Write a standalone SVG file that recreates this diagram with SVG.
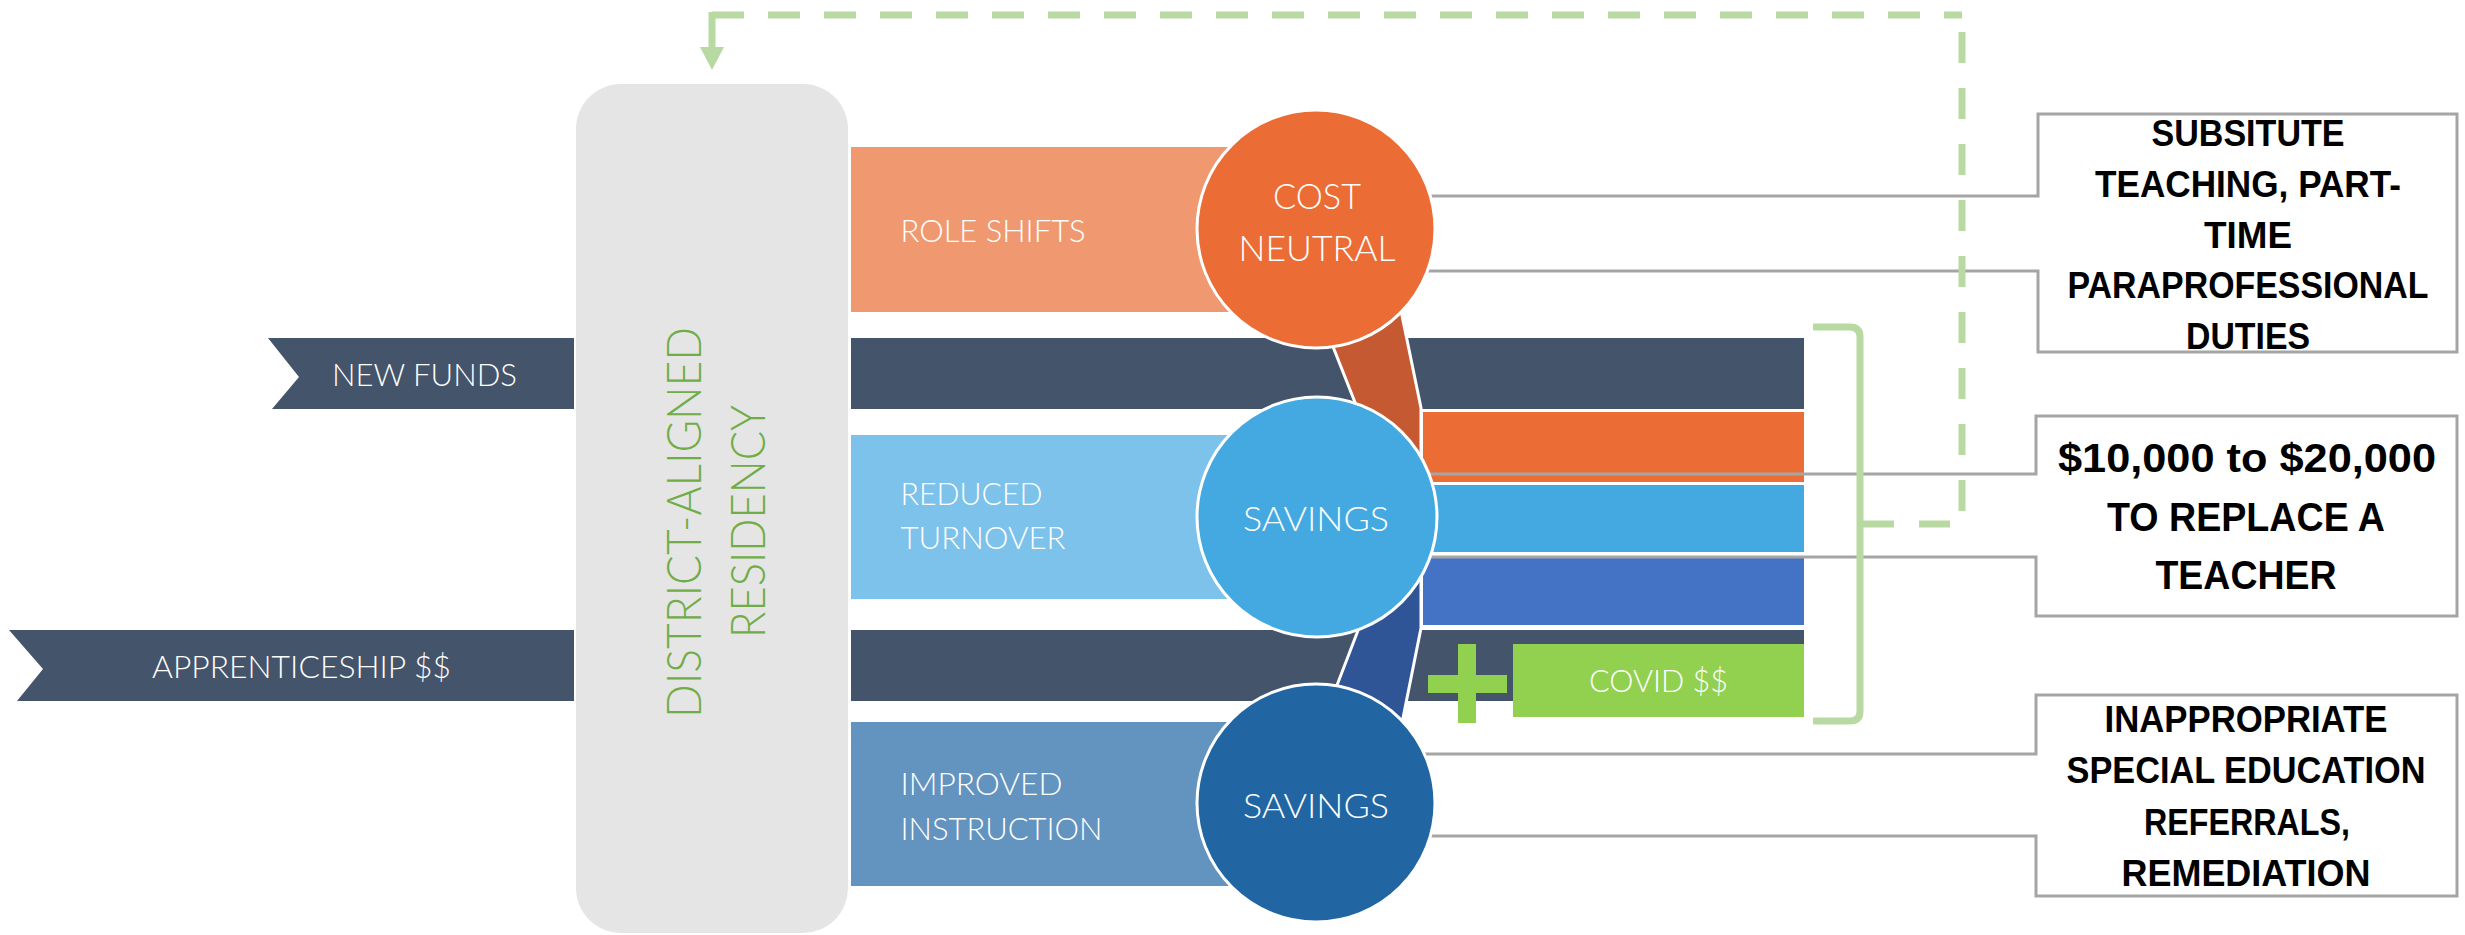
<svg xmlns="http://www.w3.org/2000/svg" width="2465" height="935" viewBox="0 0 2465 935">
<style>
.lt{font-family:Lato,"Liberation Sans",sans-serif;font-weight:300;fill:#FFFFFF}
.bd{font-family:"Liberation Sans",Arial,sans-serif;font-weight:700;fill:#000000;text-anchor:middle}
.gt{font-family:Lato,"Liberation Sans",sans-serif;font-weight:300;fill:#70AD47;font-size:48px;text-anchor:middle}
.slate{fill:#44546A}
.call{fill:none;stroke:#A5A5A5;stroke-width:3}
.circ{stroke:#FFFFFF;stroke-width:3}
.conn{stroke:#FFFFFF;stroke-width:3}
.gl{fill:none;stroke:#B9D9A3;stroke-width:7}
.plus{fill:#92D050}
</style>
<defs>
<marker id="arrow" viewBox="0 0 23 24" refX="0" refY="12" markerWidth="23" markerHeight="24" markerUnits="userSpaceOnUse" orient="auto">
<path d="M0,0 L23,12 L0,24 Z" fill="#B9D9A3"/>
</marker>
</defs>
<rect width="2465" height="935" fill="#FFFFFF"/>

<g id="residency">
<rect x="576" y="84" width="272" height="849" rx="45" ry="45" fill="#E5E5E5"/>
<text class="gt" transform="translate(700.7,522.5) rotate(-90)" textLength="391" lengthAdjust="spacingAndGlyphs">DISTRICT-ALIGNED</text>
<text class="gt" transform="translate(764.5,521.5) rotate(-90)" textLength="233" lengthAdjust="spacingAndGlyphs">RESIDENCY</text>
</g>

<g id="new-funds">
<polygon class="slate" points="268,338 574,338 574,409 272,409 299,377"/>
<rect class="slate" x="851" y="338" width="953" height="71"/>
<text class="lt" x="332" y="386" font-size="32" textLength="185" lengthAdjust="spacingAndGlyphs">NEW FUNDS</text>
</g>

<g id="apprenticeship">
<polygon class="slate" points="9,630 574,630 574,701 17,701 43,669"/>
<rect class="slate" x="851" y="630" width="953" height="71"/>
<text class="lt" x="152" y="678" font-size="32" textLength="299" lengthAdjust="spacingAndGlyphs">APPRENTICESHIP $$</text>
</g>

<g id="role-shifts">
<rect x="851" y="147" width="450" height="165" fill="#F0986F"/>
<text class="lt" x="900.5" y="242" font-size="31" textLength="185" lengthAdjust="spacingAndGlyphs">ROLE SHIFTS</text>
</g>

<g id="reduced-turnover">
<rect x="851" y="435" width="450" height="164" fill="#7DC2EA"/>
<text class="lt" x="900.5" y="505" font-size="31" textLength="142" lengthAdjust="spacingAndGlyphs">REDUCED</text>
<text class="lt" x="900.5" y="549" font-size="31" textLength="165" lengthAdjust="spacingAndGlyphs">TURNOVER</text>
</g>

<g id="improved-instruction">
<rect x="851" y="722" width="450" height="164" fill="#6393BF"/>
<text class="lt" x="900.5" y="795" font-size="31" textLength="162" lengthAdjust="spacingAndGlyphs">IMPROVED</text>
<text class="lt" x="900.5" y="840" font-size="31" textLength="202" lengthAdjust="spacingAndGlyphs">INSTRUCTION</text>
</g>

<g id="bars">
<rect x="1423" y="412" width="381" height="70" fill="#EC6C35"/>
<rect x="1330" y="485" width="474" height="67" fill="#44A9E1"/>
<rect x="1423" y="558" width="381" height="67" fill="#4472C4"/>
</g>

<g id="covid">
<rect x="1513" y="644" width="291" height="73" fill="#92D050"/>
<rect class="plus" x="1458" y="644" width="18" height="79"/>
<rect class="plus" x="1428" y="675" width="79" height="18"/>
<text class="lt" x="1589" y="692" font-size="31" textLength="139" lengthAdjust="spacingAndGlyphs">COVID $$</text>
</g>

<g id="connectors">
<polygon class="conn" points="1330,339 1398,296 1421,408 1421,470 1358,410" fill="#C55A32"/>
<polygon class="conn" points="1362,620 1421,565 1421,628 1400,733 1334,693" fill="#2F5597"/>
<path class="call" d="M1400,196 H2038 V114 H2457 V352 H2038 V271 H1400"/>
<path class="call" d="M1400,474 H2036 V416 H2457 V616 H2036 V557 H1400"/>
<path class="call" d="M1400,754 H2036 V695 H2457 V896 H2036 V836 H1400"/>
<path class="gl" d="M1813,327 H1850 Q1860,327 1860,337 V711 Q1860,721 1850,721 H1813"/>
<path class="gl" d="M1962,32 V524 H1860" stroke-dasharray="31 25"/>
<path class="gl" d="M712,15 H1962" stroke-dasharray="32 24"/>
<path class="gl" d="M712,12 V47" marker-end="url(#arrow)"/>
</g>

<g id="cost-neutral">
<circle class="circ" cx="1316" cy="229" r="119" fill="#EC6C35"/>
<text class="lt" x="1317" y="209" font-size="36" text-anchor="middle" textLength="88" lengthAdjust="spacingAndGlyphs">COST</text>
<text class="lt" x="1317" y="261" font-size="36" text-anchor="middle" textLength="157" lengthAdjust="spacingAndGlyphs">NEUTRAL</text>
</g>

<g id="savings-turnover">
<circle class="circ" cx="1317" cy="517" r="120" fill="#44A9E1"/>
<text class="lt" x="1316" y="531" font-size="34" text-anchor="middle" textLength="146" lengthAdjust="spacingAndGlyphs">SAVINGS</text>
</g>

<g id="savings-instruction">
<circle class="circ" cx="1316" cy="803" r="119" fill="#2166A3"/>
<text class="lt" x="1316" y="818" font-size="34" text-anchor="middle" textLength="146" lengthAdjust="spacingAndGlyphs">SAVINGS</text>
</g>

<g id="callout-substitute">
<text class="bd" x="2248" y="146" font-size="36" textLength="193" lengthAdjust="spacingAndGlyphs">SUBSITUTE</text>
<text class="bd" x="2248" y="197" font-size="36" textLength="306" lengthAdjust="spacingAndGlyphs">TEACHING, PART-</text>
<text class="bd" x="2248" y="248" font-size="36" textLength="88" lengthAdjust="spacingAndGlyphs">TIME</text>
<text class="bd" x="2248" y="298" font-size="36" textLength="361" lengthAdjust="spacingAndGlyphs">PARAPROFESSIONAL</text>
<text class="bd" x="2248" y="349" font-size="36" textLength="124" lengthAdjust="spacingAndGlyphs">DUTIES</text>
</g>

<g id="callout-replace">
<text class="bd" x="2247" y="472" font-size="40" textLength="378" lengthAdjust="spacingAndGlyphs">$10,000 to $20,000</text>
<text class="bd" x="2246" y="531" font-size="40" textLength="278" lengthAdjust="spacingAndGlyphs">TO REPLACE A</text>
<text class="bd" x="2246" y="589" font-size="40" textLength="181" lengthAdjust="spacingAndGlyphs">TEACHER</text>
</g>

<g id="callout-sped">
<text class="bd" x="2246" y="732" font-size="36" textLength="283" lengthAdjust="spacingAndGlyphs">INAPPROPRIATE</text>
<text class="bd" x="2246" y="783" font-size="36" textLength="359" lengthAdjust="spacingAndGlyphs">SPECIAL EDUCATION</text>
<text class="bd" x="2247" y="835" font-size="36" textLength="206" lengthAdjust="spacingAndGlyphs">REFERRALS,</text>
<text class="bd" x="2246" y="886" font-size="36" textLength="249" lengthAdjust="spacingAndGlyphs">REMEDIATION</text>
</g>
</svg>
